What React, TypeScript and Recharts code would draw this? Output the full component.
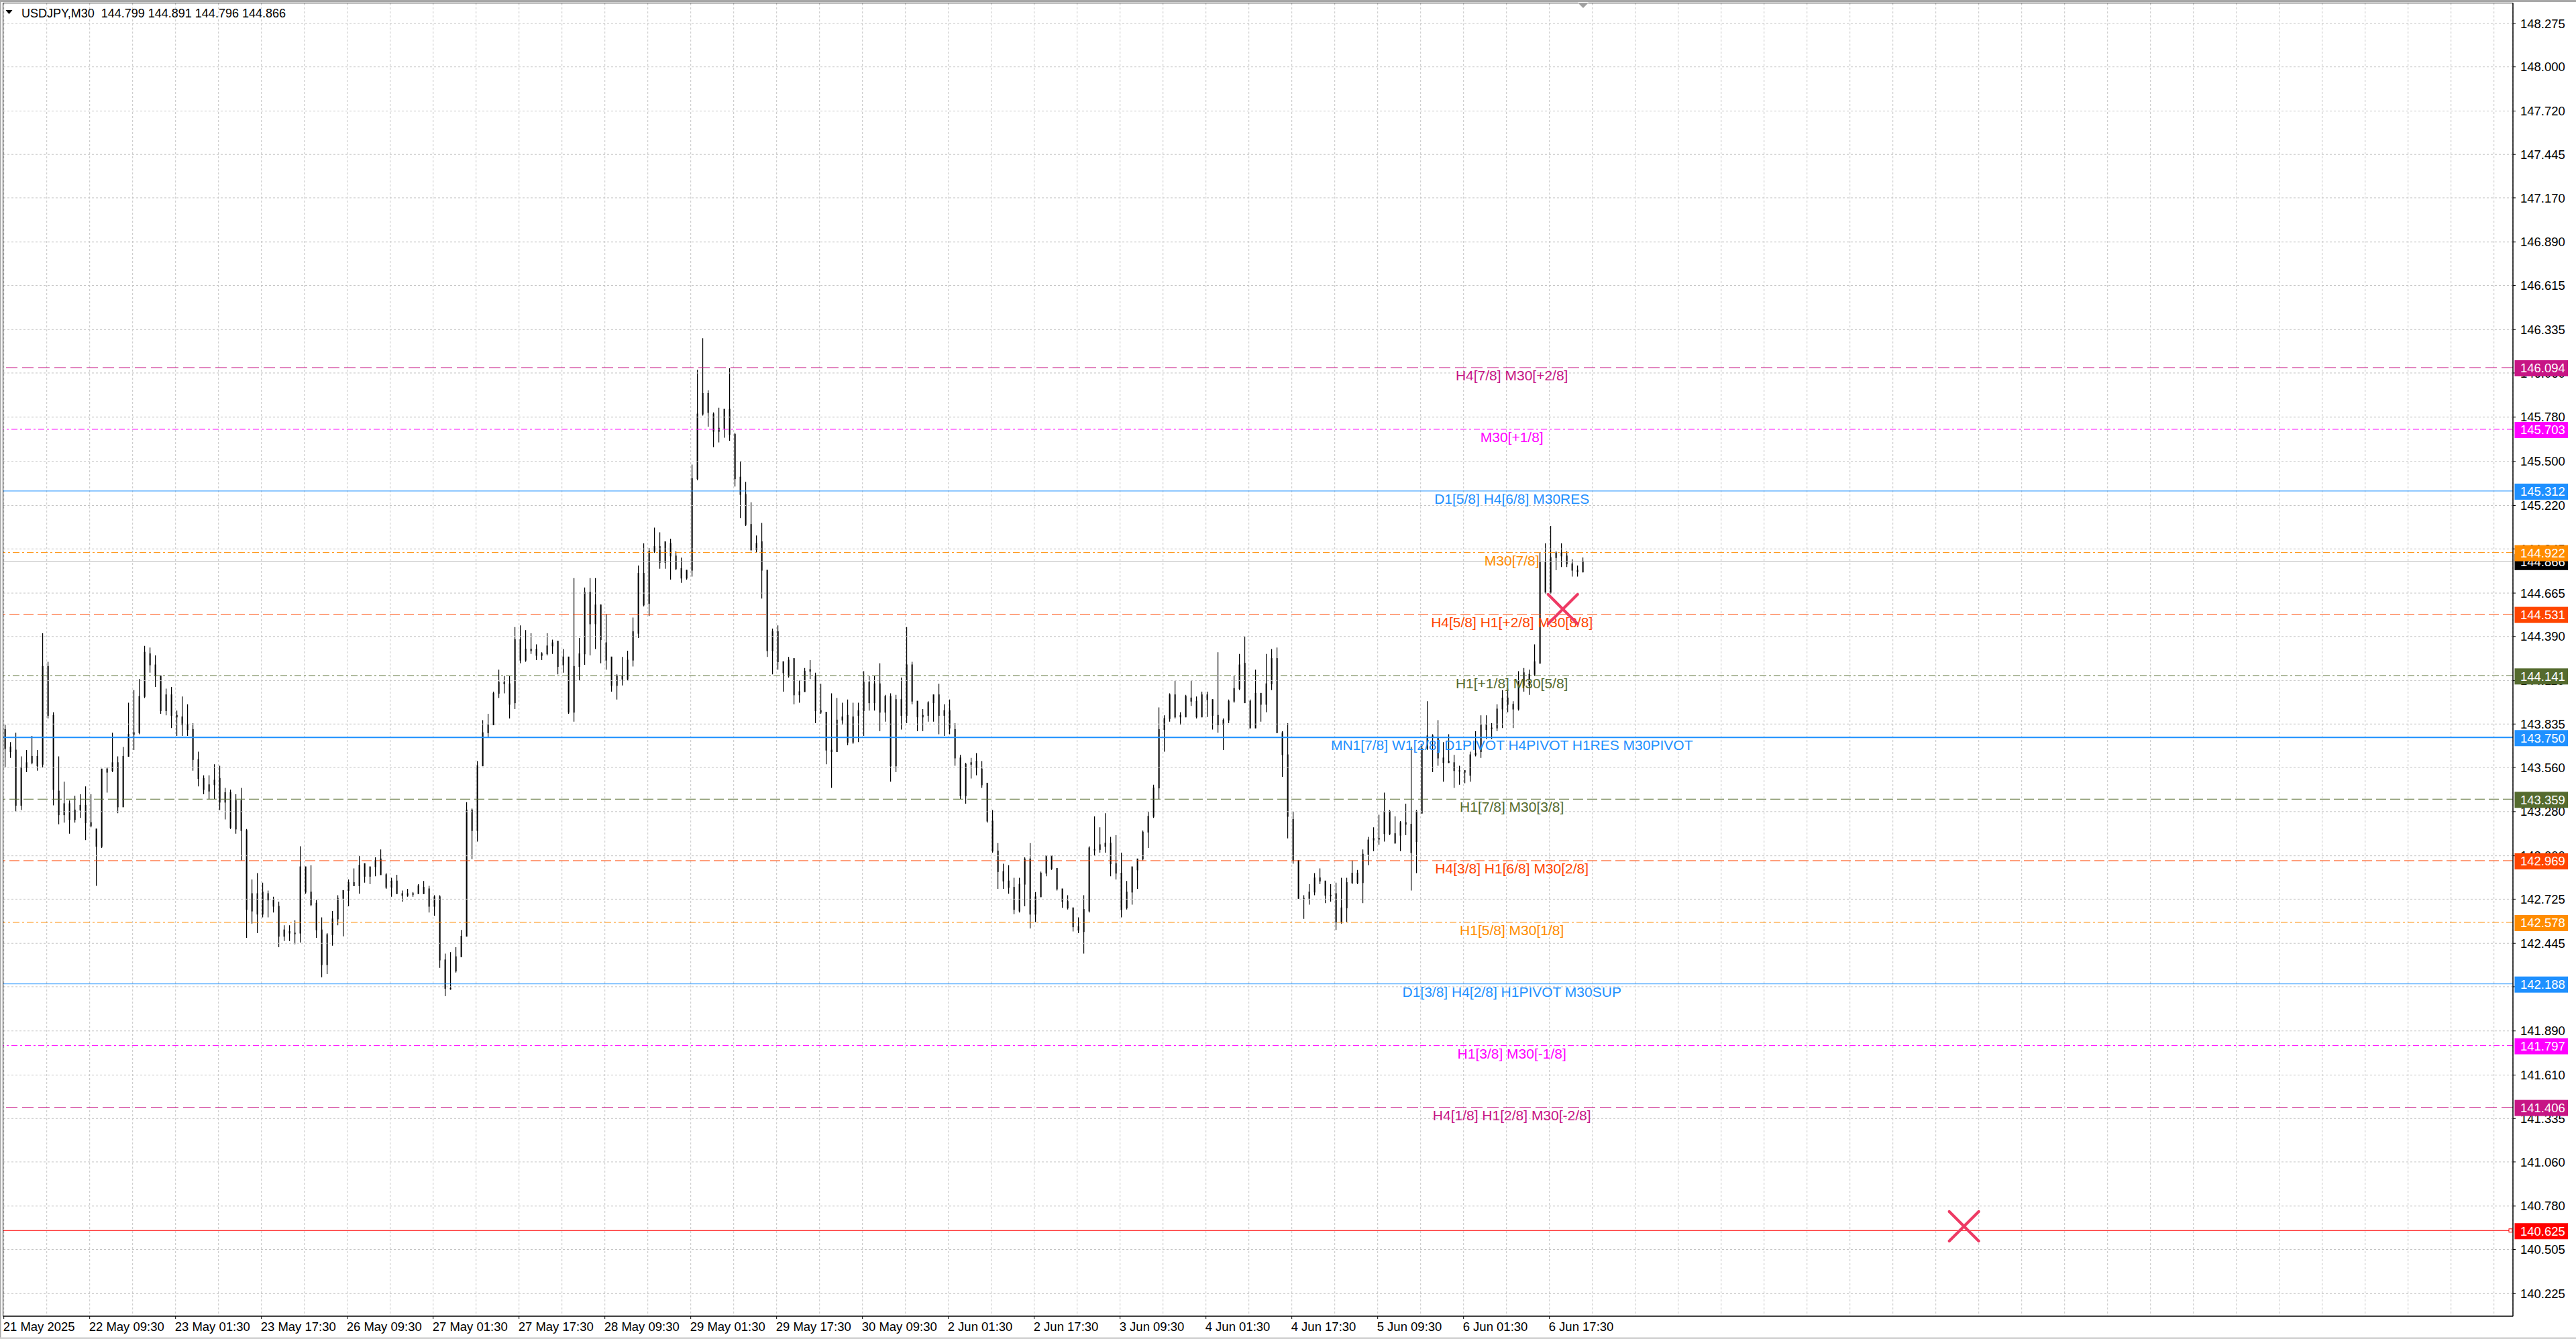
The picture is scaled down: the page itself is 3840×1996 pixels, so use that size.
import React from "react";
import { ComposedChart, Bar, XAxis, YAxis, CartesianGrid, ReferenceLine, Scatter } from "recharts";

type C = [number, number, number, number]; // open, high, low, close (H1)

const seg1: C[] = [
  [143.80,143.83,143.56,143.68],[143.69,143.72,143.62,143.66],[143.67,143.78,143.28,143.32],[143.32,143.63,143.29,143.56],
  [143.56,143.67,143.53,143.59],[143.59,143.76,143.58,143.63],[143.63,143.67,143.54,143.57],[143.58,144.41,143.56,144.20],
  [144.20,144.23,143.87,143.89],[143.89,143.91,143.32,143.42],[143.41,143.63,143.20,143.26],[143.26,143.47,143.21,143.33],
  [143.33,143.35,143.14,143.23],[143.23,143.38,143.21,143.29],[143.29,143.39,143.24,143.32],[143.32,143.44,143.10,143.21],
  [143.21,143.39,143.18,143.19],[143.17,143.17,142.81,143.06],[143.06,143.55,143.05,143.55],[143.55,143.56,143.40,143.53],
  [143.54,143.78,143.53,143.59],[143.59,143.63,143.27,143.31],[143.31,143.69,143.31,143.63],[143.63,143.97,143.63,143.77],
  [143.77,144.05,143.67,143.78],[143.78,144.12,143.77,144.01],[144.01,144.33,144.00,144.29],[144.28,144.32,144.16,144.21],
  [144.21,144.27,144.07,144.14],[144.14,144.14,143.90,143.92],[143.92,144.06,143.89,144.02],[144.02,144.07,143.81,143.89],
  [143.89,143.92,143.76,143.88],[143.88,144.01,143.76,143.83],[143.83,143.96,143.76,143.80],[143.80,143.84,143.54,143.61],
  [143.61,143.66,143.44,143.49],[143.49,143.51,143.39,143.42],[143.41,143.51,143.36,143.45],[143.45,143.58,143.36,143.48],
  [143.49,143.57,143.29,143.34],[143.34,143.43,143.23,143.40],[143.40,143.42,143.17,143.18],[143.17,143.39,143.14,143.35],
  [143.35,143.43,142.97,143.16],[143.16,143.17,142.48,142.66],[142.65,142.85,142.57,142.76],[142.76,142.89,142.51,142.63],
  [142.63,142.83,142.61,142.77],[142.76,142.78,142.61,142.72],
];
const seg2: C[] = [
  [142.72,142.74,142.64,142.68],[142.68,142.71,142.42,142.49],[142.49,142.56,142.46,142.53],[142.52,142.56,142.46,142.51],
  [142.51,142.59,142.44,142.51],[142.51,143.06,142.45,142.93],[142.93,142.93,142.76,142.77],[142.77,142.94,142.68,142.69],
  [142.70,142.72,142.48,142.53],[142.53,142.61,142.23,142.31],[142.31,142.51,142.25,142.50],[142.50,142.65,142.43,142.60],
  [142.60,142.75,142.56,142.73],[142.73,142.78,142.49,142.78],[142.78,142.85,142.68,142.83],[142.83,142.92,142.81,142.81],
  [142.81,143.00,142.76,142.94],[142.95,142.95,142.83,142.87],[142.87,142.93,142.82,142.93],[142.93,142.99,142.87,142.97],
  [142.98,143.04,142.88,142.88],[142.88,142.89,142.79,142.80],[142.80,142.86,142.74,142.84],[142.84,142.88,142.76,142.76],
  [142.76,142.78,142.71,142.75],[142.75,142.79,142.74,142.76],[142.76,142.77,142.74,142.76],[142.76,142.82,142.76,142.81],
  [142.80,142.84,142.76,142.76],[142.79,142.81,142.64,142.68],[142.68,142.75,142.62,142.74],[142.74,142.75,142.29,142.34],
  [142.34,142.38,142.11,142.16],[142.16,142.39,142.15,142.16],[142.27,142.42,142.26,142.36],[142.36,142.53,142.36,142.49],
  [142.49,143.34,142.49,143.29],[143.29,143.30,142.98,143.16],[143.16,143.60,143.09,143.57],[143.57,143.86,143.57,143.78],
  [143.78,143.90,143.75,143.83],[143.83,144.04,143.83,144.03],[144.03,144.18,144.00,144.10],[144.10,144.14,144.03,144.09],
  [144.09,144.14,143.87,143.96],[143.97,144.45,143.93,144.37],[144.37,144.46,144.22,144.24],[144.24,144.43,144.23,144.31],
  [144.31,144.41,144.28,144.30],[144.31,144.34,144.24,144.27],
];
const seg3: C[] = [
  [144.27,144.29,144.24,144.28],[144.28,144.41,144.27,144.33],[144.33,144.37,144.28,144.35],[144.36,144.36,144.15,144.20],
  [144.21,144.31,144.16,144.26],[144.26,144.26,143.90,143.91],[143.91,144.76,143.85,144.20],[144.20,144.38,144.11,144.28],
  [144.28,144.70,144.21,144.67],[144.67,144.76,144.27,144.47],[144.47,144.76,144.31,144.59],[144.59,144.59,144.22,144.37],
  [144.35,144.53,144.18,144.24],[144.26,144.26,144.04,144.08],[144.08,144.15,143.99,144.14],[144.14,144.26,144.08,144.12],
  [144.12,144.30,144.11,144.24],[144.24,144.51,144.20,144.42],[144.41,144.84,144.38,144.79],[144.79,144.98,144.58,144.59],
  [144.60,144.95,144.52,144.93],[144.93,145.08,144.92,144.96],[144.96,145.05,144.82,144.86],[144.86,144.99,144.82,144.99],
  [144.98,145.01,144.75,144.90],[144.90,144.93,144.81,144.82],[144.82,144.89,144.73,144.76],[144.76,144.81,144.75,144.81],
  [144.81,145.48,144.77,145.39],[145.39,146.08,145.38,145.80],[145.80,146.28,145.79,145.93],[145.93,145.95,145.72,145.81],
  [145.80,145.81,145.59,145.69],[145.69,145.84,145.62,145.71],[145.71,145.83,145.65,145.83],[145.83,146.09,145.63,145.67],
  [145.67,145.68,145.34,145.39],[145.40,145.50,145.14,145.29],[145.29,145.37,145.09,145.10],[145.10,145.24,144.93,144.94],
  [144.94,145.03,144.92,144.98],[144.99,145.11,144.63,144.81],[144.81,144.81,144.26,144.30],[144.30,144.44,144.15,144.42],
  [144.42,144.46,144.18,144.23],[144.23,144.23,144.04,144.16],[144.14,144.26,144.13,144.24],[144.25,144.25,143.96,144.02],
  [144.02,144.11,143.97,144.04],[144.04,144.19,144.04,144.17],
];
const seg4: C[] = [
  [144.17,144.24,144.12,144.18],[144.14,144.16,143.84,143.92],[143.92,144.09,143.90,143.91],[143.91,143.91,143.58,143.67],
  [143.67,144.03,143.43,143.66],[143.66,144.00,143.66,143.86],[143.86,143.97,143.83,143.88],[143.89,143.99,143.70,143.72],
  [143.72,143.97,143.71,143.88],[143.89,143.97,143.72,143.92],[143.92,144.17,143.76,144.10],[144.10,144.14,143.92,143.97],
  [143.97,144.14,143.92,144.09],[144.09,144.22,143.79,143.91],[143.91,144.02,143.85,144.01],[144.01,144.03,143.47,143.57],
  [143.57,144.02,143.53,143.99],[143.99,144.13,143.80,143.89],[143.89,144.45,143.84,144.21],[144.21,144.23,143.96,143.98],
  [143.98,143.98,143.79,143.88],[143.88,143.93,143.79,143.89],[143.89,143.98,143.85,143.97],[143.97,144.02,143.85,144.02],
  [144.02,144.09,143.77,143.89],[143.89,143.96,143.76,143.92],[143.92,143.99,143.77,143.81],[143.80,143.84,143.57,143.62],
  [143.62,143.64,143.36,143.38],[143.38,143.59,143.33,143.58],[143.58,143.62,143.49,143.59],[143.60,143.65,143.51,143.56],
  [143.55,143.60,143.43,143.45],[143.46,143.46,143.21,143.22],[143.22,143.29,143.02,143.03],[143.03,143.08,142.79,142.90],
  [142.90,142.95,142.79,142.84],[142.84,142.94,142.76,142.80],[142.80,142.86,142.63,142.66],[142.65,142.86,142.64,142.82],
  [142.82,142.99,142.68,142.98],[142.98,143.08,142.54,142.63],[142.63,142.77,142.58,142.74],[142.74,142.90,142.74,142.89],
  [142.89,143.00,142.87,143.00],[143.00,143.00,142.91,142.92],[142.92,142.92,142.78,142.79],[142.79,142.79,142.67,142.71],
  [142.71,142.75,142.66,142.67],[142.67,142.67,142.52,142.55],
];
const seg5: C[] = [
  [142.55,142.61,142.51,142.53],[142.52,142.75,142.38,142.66],[142.65,143.06,142.64,143.05],[143.04,143.25,143.00,143.04],
  [143.04,143.18,143.02,143.07],[143.06,143.27,143.02,143.08],[143.08,143.12,142.87,142.95],[142.95,143.13,142.85,142.89],
  [142.89,143.02,142.61,142.66],[142.67,142.84,142.66,142.77],[142.77,142.93,142.69,142.93],[142.91,142.98,142.79,142.98],
  [142.98,143.16,142.97,143.15],[143.15,143.28,143.05,143.25],[143.25,143.45,143.24,143.43],[143.43,143.94,143.36,143.80],
  [143.80,143.89,143.66,143.87],[143.87,144.03,143.85,144.02],[144.02,144.11,143.87,143.88],[143.88,143.91,143.83,143.89],
  [143.88,144.02,143.88,144.01],[144.00,144.11,143.95,143.98],[143.98,144.01,143.87,143.88],[143.88,144.04,143.88,144.02],
  [144.02,144.04,143.88,143.99],[143.99,143.99,143.80,143.89],[143.89,144.29,143.78,143.83],[143.83,143.87,143.67,143.86],
  [143.86,143.99,143.84,143.98],[143.98,144.14,143.97,144.06],[144.06,144.28,144.05,144.21],[144.22,144.39,143.97,143.97],
  [143.98,143.99,143.81,143.81],[143.81,144.18,143.81,144.03],[144.03,144.03,143.85,143.96],[143.96,144.28,143.91,144.09],
  [144.09,144.31,144.05,144.25],[144.25,144.32,143.78,143.78],[143.78,143.79,143.50,143.64],[143.64,143.84,143.11,143.25],
  [143.23,143.28,142.95,142.97],[142.97,142.97,142.73,142.73],[142.73,142.75,142.60,142.73],[142.73,142.82,142.69,142.77],
  [142.77,142.89,142.75,142.86],[142.86,142.92,142.82,142.84],[142.84,142.84,142.70,142.75],[142.75,142.82,142.71,142.75],
  [142.76,142.83,142.53,142.58],[142.58,142.86,142.57,142.67],
];
const seg6: C[] = [
  [142.67,142.86,142.58,142.83],[142.83,142.97,142.82,142.89],[142.89,142.91,142.82,142.83],[142.83,143.04,142.70,143.01],
  [143.01,143.12,142.94,143.10],[143.10,143.18,143.03,143.11],[143.11,143.26,143.07,143.11],[143.14,143.40,143.09,143.28],
  [143.28,143.29,143.13,143.14],[143.14,143.25,143.08,143.08],[143.13,143.22,143.03,143.21],[143.21,143.33,143.13,143.20],
  [143.20,143.69,142.78,143.02],[143.09,143.29,142.89,143.28],[143.27,143.71,143.27,143.68],[143.68,143.98,143.67,143.76],
  [143.76,143.77,143.53,143.75],[143.75,143.86,143.57,143.62],[143.62,143.72,143.47,143.59],[143.59,143.77,143.59,143.60],
  [143.59,143.64,143.43,143.54],[143.54,143.57,143.45,143.54],[143.54,143.54,143.46,143.53],[143.51,143.66,143.47,143.64],
  [143.64,143.79,143.63,143.65],[143.66,143.89,143.62,143.83],[143.83,143.89,143.74,143.80],[143.81,143.84,143.74,143.81],
  [143.81,143.96,143.79,143.93],[143.93,144.05,143.81,144.00],[144.00,144.06,143.91,143.96],[143.96,143.98,143.81,143.93],
  [143.93,144.17,143.92,144.11],[144.16,144.19,144.04,144.08],[144.08,144.18,144.02,144.15],[144.15,144.34,144.14,144.23],
  [144.22,144.92,144.22,144.86],[144.86,144.98,144.66,144.67],[144.67,145.09,144.66,144.89],[144.89,144.93,144.81,144.92],
  [144.92,144.98,144.83,144.90],[144.90,144.93,144.83,144.85],[144.85,144.88,144.77,144.81],[144.81,144.84,144.77,144.80],
  [144.799,144.891,144.796,144.866],
];

const symbolName = "USDJPY,M30";

const timeLabelBars = [0,32,64,96,128,160,192,224,256,288,320,352,384,416,448,480,512,544,576];
const timeLabels = [
  "21 May 2025","22 May 09:30","23 May 01:30","23 May 17:30","26 May 09:30","27 May 01:30","27 May 17:30",
  "28 May 09:30","29 May 01:30","29 May 17:30","30 May 09:30","2 Jun 01:30","2 Jun 17:30","3 Jun 09:30",
  "4 Jun 01:30","4 Jun 17:30","5 Jun 09:30","6 Jun 01:30","6 Jun 17:30",
];
const gridBars = [0,16,32,48,64,80,96,112,128,144,160,176,192,208,224,240,256,272,288,304,320,336,352,368,384,400,
  416,432,448,464,480,496,512,528,544,560,576,592,608,624,640,656,672,688,704,720,736,752,768,784,800,816,832,848,
  864,880,896,912,928];
const priceTicks = [148.275,148.0,147.72,147.445,147.17,146.89,146.615,146.335,146.06,145.78,145.5,145.22,144.945,
  144.665,144.39,144.11,143.835,143.56,143.28,143.0,142.725,142.445,142.17,141.89,141.61,141.335,141.06,140.78,
  140.505,140.225];

const levelPrices = [146.094,145.703,145.312,144.922,144.531,144.141,143.750,143.359,142.969,142.578,142.188,141.797,141.406,140.625];
const levelNames = [
  "H4[7/8] M30[+2/8]","M30[+1/8]","D1[5/8] H4[6/8] M30RES","M30[7/8]","H4[5/8] H1[+2/8] M30[8/8]",
  "H1[+1/8] M30[5/8]","MN1[7/8] W1[2/8] D1PIVOT H4PIVOT H1RES M30PIVOT","H1[7/8] M30[3/8]",
  "H4[3/8] H1[6/8] M30[2/8]","H1[5/8] M30[1/8]","D1[3/8] H4[2/8] H1PIVOT M30SUP","H1[3/8] M30[-1/8]",
  "H4[1/8] H1[2/8] M30[-2/8]","",
];
const levelColors = ["#C71585","#FF00FF","#1E90FF","#FF8C00","#FF4500","#556B2F","#1E90FF","#556B2F","#FF4500","#FF8C00","#1E90FF","#FF00FF","#C71585","#FF0000"];
const levelDashes = ["17 7","9 4 3 4","","10 4 3 4","15 6","10 4 3 4","","15 6","15 6","10 4 3 4","","9 4 3 4","17 7",""];
const levelWidths = [1,1,1,1,1,1,2,1,1,1,1,1,1,1];
const levelTextBar = 562;

const crossBars = [581, 730.5];
const crossPrices = [144.563, 140.652];

const X_MIN = -0.175;
const X_MAX = 935.075;
const Y_MIN = 140.082;
const Y_MAX = 148.4026;
const CHART_W = 3840;
const CHART_H = 1996;
const AXIS_W = 94;
const PLOT_RIGHT = CHART_W - AXIS_W;
const FONT = "'Liberation Sans', Arial, sans-serif";

const candles: C[] = [...seg1, ...seg2, ...seg3, ...seg4, ...seg5, ...seg6];
const rows = candles.map(([o, h, l, c], k) => ({ t: 2 * k + 0.5, o, h, l, c, range: [l, h] }));
const last = candles[candles.length - 1];
const bid = last[3];

const levelTextRows = levelPrices
  .map((p, i) => ({ t: levelTextBar, p, name: levelNames[i], color: levelColors[i] }))
  .filter((r) => r.name);
const crossRows = crossBars.map((t, i) => ({ t, p: crossPrices[i] }));
const boxRows = [
  { p: bid, color: "#000000", square: false },
  ...levelPrices.map((p, i) => ({ p, color: levelColors[i], square: levelColors[i] === "#FF0000" })),
];
// price labels first, coloured price boxes after them so they are painted on top
const axisTicks = [...priceTicks, ...boxRows.map((r) => r.p)];

const Candle = (props: any) => {
  const { x, y, width, height, payload } = props;
  if (!payload || height == null || payload.h === payload.l) return <g />;
  const top = Math.min(y, y + height);
  const hgt = Math.abs(height);
  const k = hgt / (payload.h - payload.l);
  const yOf = (p: number) => top + (payload.h - p) * k;
  const cx = x + width / 2;
  const bull = payload.c >= payload.o;
  const bt = yOf(Math.max(payload.o, payload.c));
  const bb = yOf(Math.min(payload.o, payload.c));
  return (
    <g>
      <line x1={cx} x2={cx} y1={top} y2={top + hgt} stroke="#000" strokeWidth={1.2} />
      <rect x={x + 0.5} y={bt} width={width - 1} height={Math.max(bb - bt, 1)} fill={bull ? "#fff" : "#000"} stroke="#000" strokeWidth={1.2} />
    </g>
  );
};

const LevelText = (props: any) => {
  const { cx, cy, payload } = props;
  return (
    <text x={cx} y={cy + 19} textAnchor="middle" fontSize={21} fontFamily={FONT} fill={payload.color}>
      {payload.name}
    </text>
  );
};

const Cross = (props: any) => {
  const { cx, cy } = props;
  const s = 22;
  return (
    <g stroke="#EE3A64" strokeWidth={4.2} strokeLinecap="round">
      <line x1={cx - s} y1={cy - s} x2={cx + s} y2={cy + s} />
      <line x1={cx - s} y1={cy + s} x2={cx + s} y2={cy - s} />
    </g>
  );
};

const YTick = (props: any) => {
  const { y, payload, index } = props;
  const v = Number(payload.value);
  const cx = PLOT_RIGHT;
  if (index >= priceTicks.length) {
    const row = boxRows[index - priceTicks.length] || boxRows.find((r) => r.p === v);
    if (!row) return <g />;
    return (
      <g>
        {row.square && <rect x={cx - 6} y={y - 2.5} width={5} height={5} fill="#fff" stroke={row.color} strokeWidth={1} />}
        <rect x={cx + 2.5} y={y - 11} width={79.5} height={24} fill={row.color} />
        <text x={cx + 11} y={y + 7.5} fill="#fff" fontSize={18.5} fontFamily={FONT}>
          {row.p.toFixed(3)}
        </text>
      </g>
    );
  }
  return (
    <g>
      <line x1={cx} x2={cx + 4} y1={y} y2={y} stroke="#000" strokeWidth={1} />
      <text x={cx + 11} y={y + 6.6} fontSize={18.5} fontFamily={FONT} fill="#000" textAnchor="start">
        {v.toFixed(3)}
      </text>
    </g>
  );
};

const XTick = (props: any) => {
  const { x, y, payload } = props;
  const i = timeLabelBars.indexOf(payload.value);
  if (i < 0) return <g />;
  return (
    <g>
      <line x1={x} x2={x} y1={y} y2={y + 4} stroke="#000" strokeWidth={1} />
      <text x={x - 1} y={y + 22} fontSize={18.5} fontFamily={FONT} fill="#000" textAnchor="start">
        {timeLabels[i]}
      </text>
    </g>
  );
};

export default function App() {
  const header = `${symbolName}  ${last[0].toFixed(3)} ${last[1].toFixed(3)} ${last[2].toFixed(3)} ${last[3].toFixed(3)}`;
  return (
    <div style={{ position: "fixed", left: 0, top: 0, width: CHART_W, height: CHART_H, background: "#fff", overflow: "hidden" }}>
      <ComposedChart width={CHART_W} height={CHART_H} data={rows} margin={{ top: 5, right: 0, bottom: 0, left: 5 }}>
        <CartesianGrid stroke="#c4c4c4" strokeDasharray="3 3" horizontal={false} />
        {priceTicks.map((p) => (
          <ReferenceLine key={"g" + p} y={p} stroke="#c4c4c4" strokeDasharray="3 3" />
        ))}
        {levelPrices.map((p, i) => (
          <ReferenceLine
            key={"lvl" + i}
            y={p}
            stroke={levelColors[i]}
            strokeWidth={levelWidths[i]}
            strokeDasharray={levelDashes[i] || undefined}
          />
        ))}
        <ReferenceLine y={bid} stroke="#b8b8b8" strokeWidth={1} />
        <Scatter data={levelTextRows} dataKey="p" shape={LevelText} isAnimationActive={false} />
        <Bar dataKey="range" barSize={6} shape={Candle} isAnimationActive={false} />
        <Scatter data={crossRows} dataKey="p" shape={Cross} isAnimationActive={false} />
        <XAxis
          type="number"
          dataKey="t"
          domain={[X_MIN, X_MAX]}
          ticks={gridBars}
          interval={0}
          tick={XTick}
          tickLine={false}
          tickSize={0}
          tickMargin={0}
          axisLine={{ stroke: "#000" }}
          height={34}
        />
        <YAxis
          orientation="right"
          type="number"
          domain={[Y_MIN, Y_MAX]}
          ticks={axisTicks}
          interval={0}
          tick={YTick}
          tickLine={false}
          tickSize={4}
          tickMargin={7}
          axisLine={{ stroke: "#000" }}
          width={AXIS_W}
        />
      </ComposedChart>
      <svg width={CHART_W} height={CHART_H} style={{ position: "absolute", left: 0, top: 0, pointerEvents: "none" }}>
        <rect x={0} y={0} width={CHART_W} height={3} fill="#a8a8a8" />
        <rect x={0} y={0} width={1.5} height={CHART_H} fill="#a8a8a8" />
        <rect x={0} y={1993.5} width={CHART_W} height={2.5} fill="#d0d0d0" />
        <rect x={4.5} y={4.5} width={3741.5} height={1957.5} fill="none" stroke="#000" strokeWidth={1} />
        <polygon points="2352,4 2368,4 2360,12" fill="#a0a0a0" />
        <polygon points="8.5,15 18.5,15 13.5,21" fill="#000" />
        <text x={32} y={26} fontSize={18} fontFamily={FONT} fill="#000" style={{ whiteSpace: "pre" }}>
          {header}
        </text>
      </svg>
    </div>
  );
}
